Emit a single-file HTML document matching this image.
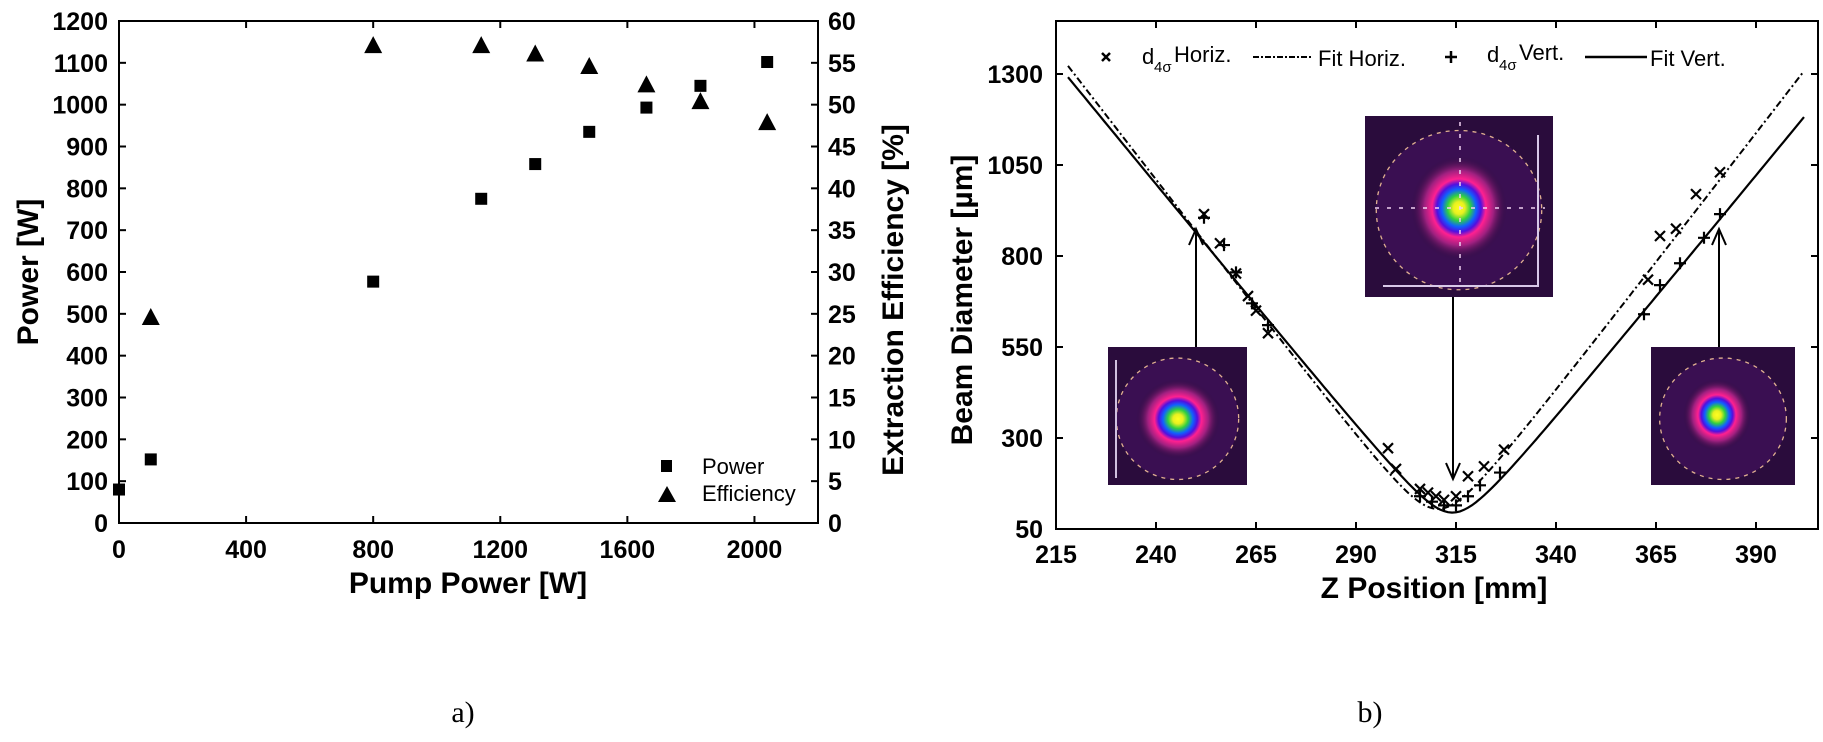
<!DOCTYPE html>
<html><head><meta charset="utf-8"><style>
html,body{margin:0;padding:0;background:#fff;}
svg{display:block;}
text{font-family:"Liberation Sans",Arial,sans-serif;fill:#000;}
.tk{font-size:25px;font-weight:bold;}
.tt{font-size:30px;font-weight:bold;}
.lg{font-size:22px;}
</style></head><body>
<svg id="fig" width="1823" height="742" viewBox="0 0 1823 742" xmlns="http://www.w3.org/2000/svg">
<defs>
<radialGradient id="beamL" cx="0.5" cy="0.5" r="0.5">
<stop offset="0" stop-color="#ffff20"/><stop offset="0.12" stop-color="#e8f020"/><stop offset="0.24" stop-color="#30d040"/><stop offset="0.36" stop-color="#1060ff"/><stop offset="0.46" stop-color="#5010e0"/><stop offset="0.56" stop-color="#ff2090"/><stop offset="0.72" stop-color="#a02080"/><stop offset="1" stop-color="#2a0b3a" stop-opacity="0"/>
</radialGradient>
</defs>
<g id="chartA"></g>
<g id="chartB"></g>
<text x="463" y="722" font-size="30" style="font-family:'Liberation Serif',serif" text-anchor="middle">a)</text>
<text x="1370" y="722" font-size="30" style="font-family:'Liberation Serif',serif" text-anchor="middle">b)</text>
</svg>
<script>
// ---- Chart A data ----
const pumpPowerP = [0, 100, 800, 1140, 1310, 1480, 1660, 1830, 2040];
const outputPower = [80, 152, 577, 775, 858, 935, 993, 1045, 1102];
const pumpPowerE = [100, 800, 1140, 1310, 1480, 1660, 1830, 2040];
const efficiency = [24.5, 57, 57, 56, 54.5, 52.3, 50.3, 47.8];
const xTicksA = [0, 400, 800, 1200, 1600, 2000];
const yTicksA = [0,100,200,300,400,500,600,700,800,900,1000,1100,1200];
const y2TicksA = [0,5,10,15,20,25,30,35,40,45,50,55,60];
// ---- Chart B data ----
const zTicks = [215, 240, 265, 290, 315, 340, 365, 390];
const dTicks = [50, 300, 550, 800, 1050, 1300];
const horizZ = [252,256,260,263,265,268,298,300,306,308,310,312,315,318,322,327,363,366,370,375,381];
const horizD = [915,835,752,690,650,588,272,215,160,150,140,130,140,195,222,268,735,855,875,970,1030];
const vertZ = [252,257,260,264,268,306,309,312,315,318,321,326,362,366,371,377,381];
const vertD = [905,830,755,670,610,140,125,115,115,140,170,205,640,720,780,850,915];
const fitHoriz = [310.5, 14.25, 105]; // z0, slope, d0
const fitVert = [314.1, 13.4, 95];

const NS = "http://www.w3.org/2000/svg";
function mk(parent, tag, attrs, txt){
  const e = document.createElementNS(NS, tag);
  for (const k in attrs) e.setAttribute(k, attrs[k]);
  if (txt !== undefined) e.textContent = txt;
  parent.appendChild(e); return e;
}

// ===== Chart A =====
(function(){
  const g = document.getElementById('chartA');
  const L=119, R=818, T=21, B=523;
  const xA = v => L + (v/2200)*(R-L);
  const yA = v => B - (v/1200)*(B-T);
  const y2A = v => B - (v/60)*(B-T);
  const frame = mk(g,'rect',{x:L,y:T,width:R-L,height:B-T,fill:'none',stroke:'#000','stroke-width':2});
  
  
  xTicksA.forEach(v=>{
    const x=xA(v);
    const t1=mk(g,'line',{x1:x,y1:B,x2:x,y2:B-7,stroke:'#000','stroke-width':2});
    
    
    const t2=mk(g,'line',{x1:x,y1:T,x2:x,y2:T+7,stroke:'#000','stroke-width':2});
    
    
    const l=mk(g,'text',{x:x,y:558,'text-anchor':'middle',class:'tk'},String(v));
    
    
  });
  yTicksA.forEach(v=>{
    const y=yA(v);
    const t=mk(g,'line',{x1:L,y1:y,x2:L+7,y2:y,stroke:'#000','stroke-width':2});
    
    
    const l=mk(g,'text',{x:108,y:y+9,'text-anchor':'end',class:'tk'},String(v));
    
    
  });
  y2TicksA.forEach(v=>{
    const y=y2A(v);
    const t=mk(g,'line',{x1:R,y1:y,x2:R-7,y2:y,stroke:'#000','stroke-width':2});
    
    
    const l=mk(g,'text',{x:828,y:y+9,'text-anchor':'start',class:'tk'},String(v));
    
    
  });
  pumpPowerP.forEach((p,i)=>{
    const s=mk(g,'rect',{x:xA(p)-6,y:yA(outputPower[i])-6,width:12,height:12,fill:'#000'});
    
    
  });
  pumpPowerE.forEach((p,i)=>{
    const x=xA(p), y=y2A(efficiency[i]);
    const t=mk(g,'polygon',{points:`${x},${y-10} ${x-9},${y+7} ${x+9},${y+7}`,fill:'#000'});
    
    
  });
  const lg=mk(g,'g',{});
  
  
  mk(lg,'rect',{x:661,y:460,width:11,height:12,fill:'#000'});
  mk(lg,'text',{x:702,y:474,class:'lg'},'Power');
  mk(lg,'polygon',{points:'667,486 658,502 676,502',fill:'#000'});
  mk(lg,'text',{x:702,y:501,class:'lg'},'Efficiency');
  const xt=mk(g,'text',{x:468,y:593,'text-anchor':'middle',class:'tt'},'Pump Power [W]');
  
  
  const yt=mk(g,'text',{x:0,y:0,'text-anchor':'middle',class:'tt',transform:'translate(38,272) rotate(-90)'},'Power [W]');
  
  
  const y2t=mk(g,'text',{x:0,y:0,'text-anchor':'middle',class:'tt',transform:'translate(903,300) rotate(-90)'},'Extraction Efficiency [%]');
  
  
})();

// ===== Chart B =====
(function(){
  const g = document.getElementById('chartB');
  const L=1056, R=1818, T=21, B=529;
  const xB = z => L + (z-215)*4;
  const yB = d => B - (d-50)*(91/250);
  function inset(x,y,w,h,name,cx,cy,rx,ry){
    const ig=mk(g,'g',{});
    
    
    mk(ig,'rect',{x:x,y:y,width:w,height:h,fill:'#2a0c3c'});
    mk(ig,'ellipse',{cx:x+w*0.5,cy:y+h*0.52,rx:w*0.44,ry:h*0.44,fill:'#3a0f52'});
    mk(ig,'ellipse',{cx:cx,cy:cy,rx:rx,ry:ry,fill:'url(#beamL)'});
    mk(ig,'ellipse',{cx:x+w*0.5,cy:y+h*0.52,rx:w*0.44,ry:h*0.44,fill:'none',stroke:'#e0b090','stroke-width':1.3,'stroke-dasharray':'4 5'});
    return ig;
  }
  inset(1108,347,139,138,'beam-profile-left',1178,419,42,40);
  mk(g,'line',{x1:1116,y1:360,x2:1116,y2:478,stroke:'#d0c0e0','stroke-width':2});
  const ci=inset(1365,116,188,181,'beam-profile-center',1459,208,48,52);
  mk(ci,'line',{x1:1375,y1:208,x2:1545,y2:208,stroke:'#f0d0f0','stroke-width':1.5,'stroke-dasharray':'4 8'});
  mk(ci,'line',{x1:1460,y1:122,x2:1460,y2:290,stroke:'#f0d0f0','stroke-width':1.5,'stroke-dasharray':'4 8'});
  mk(ci,'path',{d:'M1383,286 H1538 V135',fill:'none',stroke:'#d8c8e8','stroke-width':2});
  inset(1651,347,144,138,'beam-profile-right',1717,415,34,36);
  const frame=mk(g,'rect',{x:L,y:T,width:R-L,height:B-T,fill:'none',stroke:'#000','stroke-width':2});
  
  
  zTicks.forEach(v=>{
    const x=xB(v);
    const t1=mk(g,'line',{x1:x,y1:B,x2:x,y2:B-7,stroke:'#000','stroke-width':2});
    
    
    const t2=mk(g,'line',{x1:x,y1:T,x2:x,y2:T+7,stroke:'#000','stroke-width':2});
    
    
    const l=mk(g,'text',{x:x,y:563,'text-anchor':'middle',class:'tk'},String(v));
    
    
  });
  dTicks.forEach(v=>{
    const y=yB(v);
    const t1=mk(g,'line',{x1:L,y1:y,x2:L+7,y2:y,stroke:'#000','stroke-width':2});
    
    
    const t2=mk(g,'line',{x1:R,y1:y,x2:R-7,y2:y,stroke:'#000','stroke-width':2});
    
    
    const l=mk(g,'text',{x:1043,y:y+9,'text-anchor':'end',class:'tk'},String(v));
    
    
  });
  function fitPath(p){
    let d='';
    for(let z=218; z<=402; z+=1){
      const v=Math.sqrt(p[2]*p[2]+Math.pow(p[1]*(z-p[0]),2));
      d+=(d?'L':'M')+xB(z).toFixed(1)+','+yB(v).toFixed(1);
    }
    return d;
  }
  const fh=mk(g,'path',{d:fitPath(fitHoriz),fill:'none',stroke:'#000','stroke-width':2,'stroke-dasharray':'7 3 2 3'});
  
  
  const fv=mk(g,'path',{d:fitPath(fitVert),fill:'none',stroke:'#000','stroke-width':2.2});
  
  
  horizZ.forEach((z,i)=>{
    const x=xB(z), y=yB(horizD[i]);
    const m=mk(g,'path',{d:`M${x-5},${y-5}L${x+5},${y+5}M${x-5},${y+5}L${x+5},${y-5}`,stroke:'#000','stroke-width':2.2});
    
    
  });
  vertZ.forEach((z,i)=>{
    const x=xB(z), y=yB(vertD[i]);
    const m=mk(g,'path',{d:`M${x-6},${y}L${x+6},${y}M${x},${y-6}L${x},${y+6}`,stroke:'#000','stroke-width':2.2});
    
    
  });
  function arrow(x,y1,y2,name){
    const a=mk(g,'g',{});
    
    
    mk(a,'line',{x1:x,y1:y1,x2:x,y2:y2,stroke:'#000','stroke-width':2});
    const dir=y2<y1?1:-1;
    mk(a,'path',{d:`M${x-7},${y2+dir*16}L${x},${y2}L${x+7},${y2+dir*16}`,fill:'none',stroke:'#000','stroke-width':2});
  }
  arrow(1196,347,229,'arrow-left');
  arrow(1453,297,479,'arrow-center');
  arrow(1719,347,229,'arrow-right');
  const lg=mk(g,'g',{});
  
  
  mk(lg,'path',{d:'M1102,53L1110,61M1102,61L1110,53',stroke:'#000','stroke-width':2.5});
  mk(lg,'text',{x:1142,y:64,class:'lg'},'d');
  mk(lg,'text',{x:1154,y:72,'font-size':'15'},'4σ');
  mk(lg,'text',{x:1174,y:62,class:'lg'},'Horiz.');
  mk(lg,'line',{x1:1253,y1:57,x2:1312,y2:57,stroke:'#000','stroke-width':2,'stroke-dasharray':'6 2 2 2'});
  mk(lg,'text',{x:1318,y:66,class:'lg'},'Fit Horiz.');
  mk(lg,'path',{d:'M1445,57H1457M1451,51V63',stroke:'#000','stroke-width':2.5});
  mk(lg,'text',{x:1487,y:62,class:'lg'},'d');
  mk(lg,'text',{x:1499,y:70,'font-size':'15'},'4σ');
  mk(lg,'text',{x:1519,y:60,class:'lg'},'Vert.');
  mk(lg,'line',{x1:1585,y1:57,x2:1647,y2:57,stroke:'#000','stroke-width':2.5});
  mk(lg,'text',{x:1650,y:66,class:'lg'},'Fit Vert.');
  const xt=mk(g,'text',{x:1434,y:598,'text-anchor':'middle',class:'tt'},'Z Position [mm]');
  
  
  const yt=mk(g,'text',{x:0,y:0,'text-anchor':'middle',class:'tt',transform:'translate(972,300) rotate(-90)'},'Beam Diameter [µm]');
  
  
})();
</script>
</body></html>
